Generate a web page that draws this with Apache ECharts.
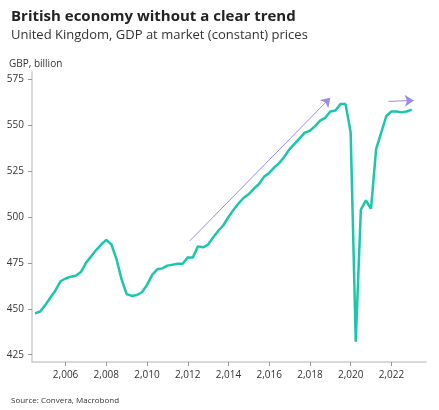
<!DOCTYPE html>
<html>
<head>
<meta charset="utf-8">
<script src="https://cdn.jsdelivr.net/npm/echarts@6/dist/echarts.min.js"></script>
<style>
html,body{margin:0;padding:0;background:#fff;}
#chart{width:439px;height:410px;}
</style>
</head>
<body>
<div id="chart"></div>
<script>
// quarterly GDP, GBP billion
var quarters = [];
for (var q = 0; q < 75; q++) { quarters.push(2004.5 + q * 0.25); }
var gdp = [447.5,448.5,452,456,460,465,466.5,467.5,468,470,
	475,478.5,482,485,487.5,485,477,466,458,457,
	457.5,459,463,468.5,471.5,472,473.5,474,474.5,474.5,
	478,478,484,483.5,485,489,492.5,495.5,500,504,
	507.5,510.5,512.5,515.5,518,522,524,527,529.5,533,
	537,540,543,546,547,549.5,552.5,554,557.5,558,
	561.5,561.5,546,432,504,509,504.5,537,546,555,
	557.5,557.5,557,557.5,558.5];
var yearTicks = [2006,2008,2010,2012,2014,2016,2018,2020,2022];
var arrowUp = [[2012.1,487],[2019.0,565]];
var arrowFlat = [[2021.85,563],[2023.1,563.5]];

var data = [];
for (var i = 0; i < gdp.length; i++) { data.push([quarters[i], gdp[i]]); }

var font = '"Open Sans", "Noto Sans", sans-serif';
var chart = echarts.init(document.getElementById('chart'));
chart.setOption({
	animation: false,
	textStyle: { fontFamily: font },
	title: [{
		text: 'British economy without a clear trend',
		subtext: 'United Kingdom, GDP at market (constant) prices',
		left: 6, top: 4, itemGap: 5,
		textStyle: { fontSize: 15, fontWeight: 'bold', color: '#222', fontFamily: font },
		subtextStyle: { fontSize: 13, color: '#333', fontFamily: font }
	}, {
		text: 'GBP, billion',
		left: 4, top: 54,
		textStyle: { fontSize: 10, fontWeight: 'normal', color: '#333', fontFamily: font }
	}, {
		text: 'Source: Convera, Macrobond',
		left: 6, top: 392,
		textStyle: { fontSize: 8, fontWeight: 'normal', color: '#333', fontFamily: font }
	}],
	grid: { left: 32, right: 13, top: 72, bottom: 48 },
	xAxis: {
		type: 'value', min: 2004.35, max: 2023.7,
		axisLine: { lineStyle: { color: '#ccc', width: 1.5 } },
		axisTick: { show: true, customValues: yearTicks, length: 4, lineStyle: { color: '#999' } },
		axisLabel: { customValues: yearTicks, color: '#333', fontSize: 10, margin: 8 },
		splitLine: { show: false }
	},
	yAxis: {
		type: 'value', min: 421, max: 579,
		axisLine: { show: true, lineStyle: { color: '#ccc', width: 1.5 } },
		axisTick: { show: true, customValues: [425,450,475,500,525,550,575], length: 4, lineStyle: { color: '#999' } },
		axisLabel: { customValues: [425,450,475,500,525,550,575], color: '#333', fontSize: 10, margin: 8 },
		splitLine: { show: false }
	},
	series: [{
		type: 'line',
		data: data,
		showSymbol: false,
		lineStyle: { color: '#1cc6aa', width: 2.5 },
		markLine: {
			silent: true,
			symbol: ['none', 'arrow'],
			symbolSize: 9,
			label: { show: false },
			lineStyle: { color: '#9a8aee', width: 1, type: 'solid' },
			data: [
				[{ coord: arrowUp[0] }, { coord: arrowUp[1] }],
				[{ coord: arrowFlat[0] }, { coord: arrowFlat[1] }]
			]
		}
	}]
});
</script>
</body>
</html>
